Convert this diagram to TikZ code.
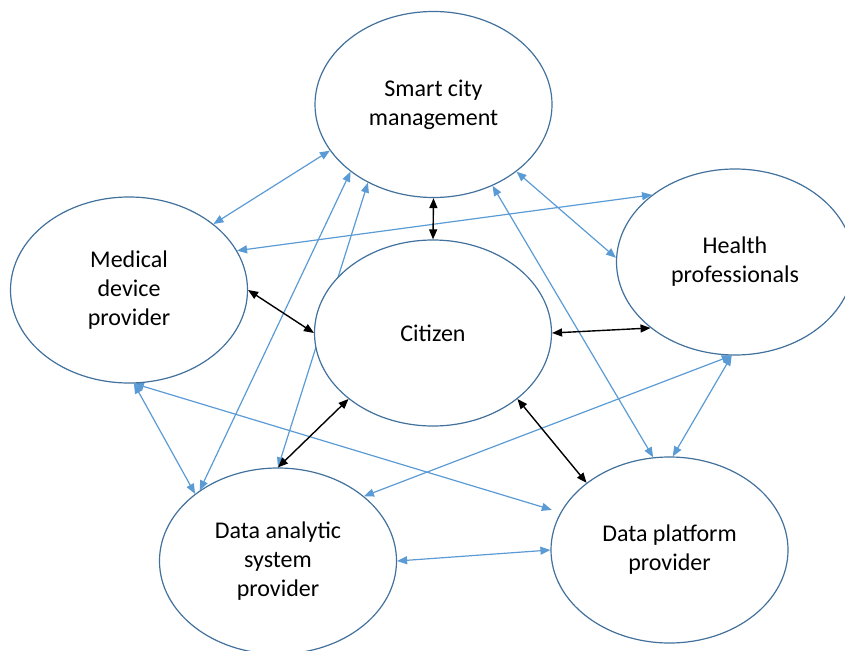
\documentclass[tikz,border=0pt]{standalone}
\usepackage{fontspec}
\setmainfont{Carlito}
\usetikzlibrary{arrows.meta,shapes.geometric,backgrounds}
\definecolor{StakeBlueDark}{HTML}{41719C}
\definecolor{StakeBlue}{HTML}{5B9BD5}

\begin{document}
\begin{tikzpicture}[x=1pt,y=-1pt,
  actor/.style={ellipse,draw=StakeBlueDark,line width=1.2pt,fill=white,
    minimum width=237pt,minimum height=186pt,inner sep=0pt,align=center,
    font=\fontsize{24}{29}\selectfont},
  link/.style={StakeBlue,line width=1.2pt,
    {Triangle[length=10pt,width=8pt]}-{Triangle[length=10pt,width=8pt]}},
  core/.style={black,line width=1.4pt,
    {Triangle[length=10pt,width=8pt]}-{Triangle[length=10pt,width=8pt]}}]
  \useasboundingbox (0,0) rectangle (845,650);
  \node[actor] (smart) at (433.5,104.5) {Smart city\\management};
  \node[actor] (medical) at (129,290) {Medical\\device\\provider};
  \node[actor] (citizen) at (433,333) {Citizen};
  \node[actor] (health) at (735,262) {Health\\professionals};
  \node[actor] (analytic) at (278,561) {Data analytic\\system\\provider};
  \node[actor] (platform) at (669.5,550) {Data platform\\provider};
  \begin{scope}[on background layer]
    \draw[link] (medical.38.6) -- (smart.204);
    \draw[link] (medical.20) -- (health.141);
    \draw[link] (smart.321.4) -- (health.178);
    \draw[link] (smart.219) -- (analytic.138);
    \draw[link] (smart.230) -- (analytic.north);
    \draw[link] (medical.-87) -- (analytic.141);
    \draw[link,shorten >=9pt] (medical.-87) -- (platform.161);
    \draw[link] (smart.306.5) -- (platform.100.4);
    \draw[link] (health.-92) -- (platform.88);
    \draw[link] (health.-92) -- (analytic.37.8);
    \draw[link] (analytic.east) -- (platform.west);
  \end{scope}
  \draw[core] (smart.south) -- (citizen.north);
  \draw[core] (medical.east) -- (citizen.west);
  \draw[core] (citizen.east) -- (health.218.4);
  \draw[core] (citizen.218) -- (analytic.north);
  \draw[core] (citizen.322.3) -- (platform.141.6);
\end{tikzpicture}
\end{document}
